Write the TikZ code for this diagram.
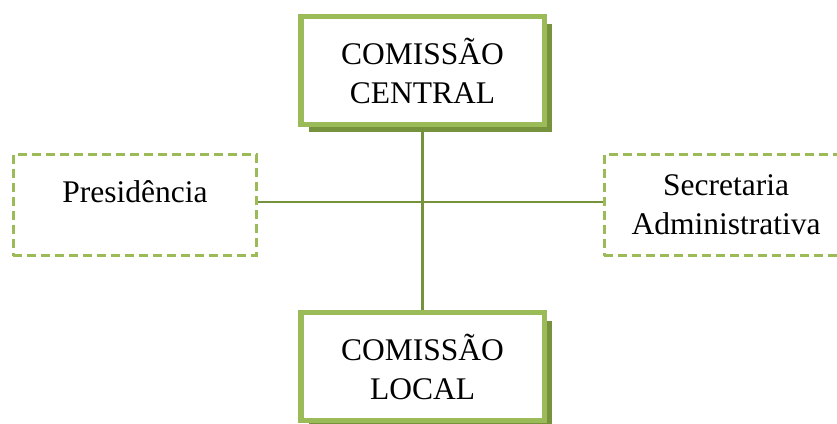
\documentclass[tikz,border=0pt]{standalone}
\usepackage{fontspec}
\setmainfont{Liberation Serif}
\usepackage{tikz}
\usetikzlibrary{shapes.geometric}
\usetikzlibrary{shadows,positioning}
\definecolor{boxgreen}{HTML}{9BBB59}
\definecolor{shadegreen}{HTML}{76923C}

\begin{document}
\begin{tikzpicture}[x=1pt, y=1pt, font=\fontsize{31.5}{39}\selectfont,
    mainbox/.style={rectangle, draw=boxgreen, fill=white, line width=5.5pt, align=center,
        minimum width=243.5pt, minimum height=108pt, inner sep=0pt,
        drop shadow={shadow xshift=8pt, shadow yshift=-8pt, fill=shadegreen, opacity=1}},
    sidebox/.style={rectangle, draw=boxgreen, line width=2.8pt, dash pattern=on 9pt off 5pt,
        align=center, minimum width=243.2pt, minimum height=101.2pt, inner sep=0pt},
    link/.style={draw=shadegreen}]

            \useasboundingbox (0,0) rectangle (837,423);

            \node[mainbox] (central) at (422.5,352.5) {COMISSÃO\\CENTRAL};
            \node[mainbox] (local) at (422.5,56.5) {COMISSÃO\\LOCAL};

            \node[sidebox, text height=22pt, text depth=26pt] (pres) at (135,218) {Presidência};
            \node[sidebox] (sec) at (726,218) {Secretaria\\Administrativa};


            \draw[link, line width=3.8pt] (central) -- (local);
            \draw[link, line width=2.8pt] ([yshift=3pt]pres.east) -- ([yshift=3pt]sec.west);

    \end{tikzpicture}
\end{document}
